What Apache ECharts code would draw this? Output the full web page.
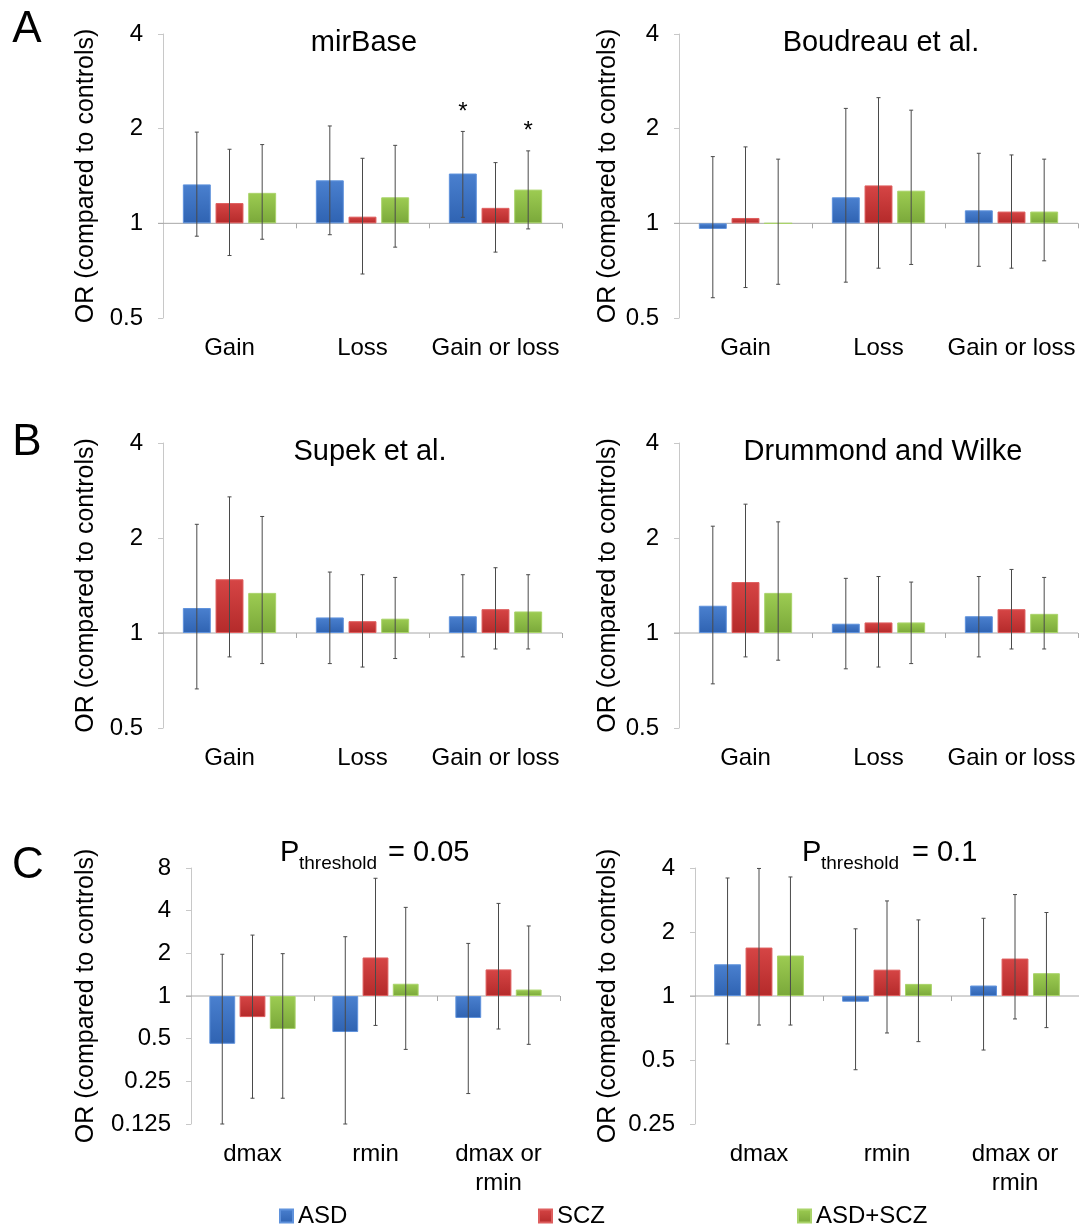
<!DOCTYPE html>
<html><head><meta charset="utf-8">
<script src="https://cdn.jsdelivr.net/npm/echarts@6/dist/echarts.min.js"></script>
<style>html,body{margin:0;padding:0;background:#fff}#c{width:1079px;height:1225px}</style>
</head><body><div id="c"></div>
<script>
// ---------- data ----------
const catsAB = ['Gain', 'Loss', 'Gain or loss'];
const catsC = ['dmax', 'rmin', 'dmax or\nrmin'];
const groups = ['ASD', 'SCZ', 'ASD+SCZ'];
const yTicksAB = [0.5, 1, 2, 4];
const yTicksC1 = [0.125, 0.25, 0.5, 1, 2, 4, 8];
const yTicksC2 = [0.25, 0.5, 1, 2, 4];

// rows: ASD, SCZ, ASD+SCZ ; columns: categories
const mirBaseOR   = [[1.33, 1.37, 1.44], [1.16, 1.05, 1.12], [1.25, 1.21, 1.28]];
const mirBaseLow  = [[0.91, 0.92, 1.045], [0.79, 0.69, 0.81], [0.89, 0.84, 0.96]];
const mirBaseHigh = [[1.95, 2.04, 1.96], [1.72, 1.61, 1.56], [1.78, 1.77, 1.70]];
const mirBaseStar = [[0, 0, 1], [0, 0, 0], [0, 0, 1]];

const boudreauOR   = [[0.96, 1.21, 1.10], [1.04, 1.32, 1.09], [1.00, 1.27, 1.09]];
const boudreauLow  = [[0.58, 0.65, 0.73], [0.625, 0.72, 0.72], [0.64, 0.74, 0.76]];
const boudreauHigh = [[1.63, 2.32, 1.67], [1.75, 2.51, 1.65], [1.60, 2.29, 1.60]];

const supekOR   = [[1.20, 1.12, 1.13], [1.48, 1.09, 1.19], [1.34, 1.11, 1.17]];
const supekLow  = [[0.665, 0.80, 0.84], [0.84, 0.78, 0.89], [0.80, 0.83, 0.89]];
const supekHigh = [[2.21, 1.56, 1.53], [2.70, 1.53, 1.61], [2.34, 1.50, 1.53]];

const drummondOR   = [[1.22, 1.07, 1.13], [1.45, 1.08, 1.19], [1.34, 1.08, 1.15]];
const drummondLow  = [[0.69, 0.77, 0.84], [0.84, 0.78, 0.89], [0.82, 0.80, 0.89]];
const drummondHigh = [[2.18, 1.49, 1.51], [2.56, 1.51, 1.59], [2.25, 1.45, 1.50]];

const p005OR   = [[0.46, 0.557, 0.70], [0.71, 1.87, 1.54], [0.585, 1.22, 1.11]];
const p005Low  = [[0.125, 0.125, 0.205], [0.19, 0.62, 0.585], [0.19, 0.42, 0.456]];
const p005High = [[1.97, 2.62, 2.35], [2.69, 6.77, 4.5], [1.99, 4.22, 3.12]];

const p01OR   = [[1.41, 0.94, 1.12], [1.69, 1.33, 1.50], [1.55, 1.14, 1.28]];
const p01Low  = [[0.595, 0.45, 0.557], [0.73, 0.67, 0.78], [0.73, 0.61, 0.71]];
const p01High = [[3.59, 2.07, 2.32], [3.98, 2.80, 3.00], [3.63, 2.28, 2.47]];

// ---------- layout ----------
const FONT = '"Liberation Sans", Arial, sans-serif';
const panels = [
  {or: mirBaseOR, lo: mirBaseLow, hi: mirBaseHigh, star: mirBaseStar, cats: catsAB, ticks: yTicksAB,
   grid: {left: 163, top: 34, width: 399, height: 284}, nameGap: 64},
  {or: boudreauOR, lo: boudreauLow, hi: boudreauHigh, cats: catsAB, ticks: yTicksAB,
   grid: {left: 679, top: 34, width: 399, height: 284}, nameGap: 58},
  {or: supekOR, lo: supekLow, hi: supekHigh, cats: catsAB, ticks: yTicksAB,
   grid: {left: 163, top: 443, width: 399, height: 285}, nameGap: 64},
  {or: drummondOR, lo: drummondLow, hi: drummondHigh, cats: catsAB, ticks: yTicksAB,
   grid: {left: 679, top: 443, width: 399, height: 285}, nameGap: 58},
  {or: p005OR, lo: p005Low, hi: p005High, cats: catsC, ticks: yTicksC1,
   grid: {left: 191, top: 868, width: 369, height: 256}, nameGap: 92},
  {or: p01OR, lo: p01Low, hi: p01High, cats: catsC, ticks: yTicksC2,
   grid: {left: 695, top: 868, width: 384, height: 256}, nameGap: 74}
];

const BW = 0.21, BG = 0.17;
const colors = [
  {c: new echarts.graphic.LinearGradient(0, 0, 0, 1, [{offset: 0, color: '#4a80cf'}, {offset: 1, color: '#2f63b2'}]), b: '#5f92dc'},
  {c: new echarts.graphic.LinearGradient(0, 0, 0, 1, [{offset: 0, color: '#d64545'}, {offset: 1, color: '#b42a2a'}]), b: '#de5e5e'},
  {c: new echarts.graphic.LinearGradient(0, 0, 0, 1, [{offset: 0, color: '#9dcc52'}, {offset: 1, color: '#7aa83a'}]), b: '#a9d369'}
];

function makeErr(g) {
  return function (params, api) {
    const i = api.value(0);
    const c = api.coord([i, 1]);
    const band = api.size([1, 1], [i, 1])[0];
    const w = band * BW, gap = w * BG;
    const x = c[0] + (g - 1) * (w + gap);
    const yl = api.coord([i, api.value(1)])[1];
    const yh = api.coord([i, api.value(2)])[1];
    const st = {stroke: '#4a4a4a', lineWidth: 1};
    const ch = [
      {type: 'line', shape: {x1: x, y1: yh, x2: x, y2: yl}, style: st},
      {type: 'line', shape: {x1: x - 2, y1: yh, x2: x + 2, y2: yh}, style: st},
      {type: 'line', shape: {x1: x - 2, y1: yl, x2: x + 2, y2: yl}, style: st}
    ];
    if (api.value(3)) {
      ch.push({type: 'text', x: x, y: yh - 7, style: {text: '*', font: '24px ' + FONT, fill: '#000',
        align: 'center', verticalAlign: 'bottom', textAlign: 'center', textVerticalAlign: 'bottom'}});
    }
    return {type: 'group', children: ch};
  };
}
function baseline(params, api) {
  const cs = params.coordSys;
  const y = api.coord([0, 1])[1];
  const st = {stroke: '#a8a8a8', lineWidth: 1};
  const ch = [{type: 'line', shape: {x1: cs.x - 5, y1: y, x2: cs.x + cs.width, y2: y}, style: st}];
  for (let k = 1; k <= 3; k++) {
    const xx = Math.round(cs.x + k * cs.width / 3) + 0.5;
    ch.push({type: 'line', shape: {x1: xx, y1: y, x2: xx, y2: y + 5}, style: st});
  }
  return {type: 'group', children: ch};
}

const grid = [], xAxis = [], yAxis = [], series = [];
panels.forEach((p, k) => {
  grid.push(Object.assign({containLabel: false}, p.grid));
  xAxis.push({type: 'category', gridIndex: k, data: p.cats,
    axisLine: {show: false}, axisTick: {show: false},
    axisLabel: {interval: 0, fontSize: 24, color: '#000', fontFamily: FONT, margin: 16, lineHeight: 29}});
  yAxis.push({type: 'log', logBase: 2, gridIndex: k, min: p.ticks[0], max: p.ticks[p.ticks.length - 1],
    name: 'OR (compared to controls)', nameLocation: 'middle', nameRotate: 90, nameGap: p.nameGap,
    nameTextStyle: {fontSize: 25, color: '#000', fontFamily: FONT},
    axisLine: {show: true, lineStyle: {color: '#c8c8c8', width: 1}},
    axisTick: {show: true, length: 5, lineStyle: {color: '#c8c8c8'}},
    splitLine: {show: false},
    axisLabel: {fontSize: 24, color: '#000', fontFamily: FONT, margin: 20,
      formatter: v => String(+(+v).toPrecision(5))}});
  series.push({type: 'custom', xAxisIndex: k, yAxisIndex: k, z: 1, silent: true,
    data: [[0, 1]], renderItem: baseline});
  groups.forEach((g, gi) => {
    series.push({name: g, type: 'bar', xAxisIndex: k, yAxisIndex: k, z: 2,
      barWidth: (BW * 100) + '%', barGap: (BG * 100) + '%',
      itemStyle: {color: colors[gi].c, borderColor: colors[gi].b, borderWidth: 1},
      data: p.or[gi]});
  });
  groups.forEach((g, gi) => {
    series.push({type: 'custom', xAxisIndex: k, yAxisIndex: k, z: 5, silent: true,
      renderItem: makeErr(gi),
      data: p.cats.map((c, i) => [i, p.lo[gi][i], p.hi[gi][i], p.star ? p.star[gi][i] : 0])});
  });
});

function txt(text, x, y, size, align) {
  return {type: 'text', x: x, y: y, silent: true,
    style: {text: text, font: size + 'px ' + FONT, fill: '#000',
      align: align || 'center', verticalAlign: 'middle',
      textAlign: align || 'center', textVerticalAlign: 'middle'}};
}
const graphic = [
  txt('A', 27, 30, 44), txt('B', 27, 443, 44), txt('C', 28, 866, 44),
  txt('mirBase', 364, 43, 29), txt('Boudreau et al.', 881, 43, 29),
  txt('Supek et al.', 370, 452, 29), txt('Drummond and Wilke', 883, 452, 29),
  txt('P', 280, 853, 29, 'left'), txt('threshold', 299, 864, 19, 'left'), txt('= 0.05', 388, 853, 29, 'left'),
  txt('P', 802, 853, 29, 'left'), txt('threshold', 821, 864, 19, 'left'), txt('= 0.1', 912, 853, 29, 'left')
];

const legendLeft = [274, 533, 792];
const legend = groups.map((g, i) => ({data: [g], left: legendLeft[i], top: 1199, icon: 'rect',
  itemWidth: 13, itemHeight: 13, itemGap: 0, selectedMode: false,
  textStyle: {fontSize: 24, color: '#000', fontFamily: FONT}}));

const chart = echarts.init(document.getElementById('c'), null, {renderer: 'canvas'});
chart.setOption({animation: false, backgroundColor: '#fff', grid, xAxis, yAxis, series, legend, graphic});
</script></body></html>
